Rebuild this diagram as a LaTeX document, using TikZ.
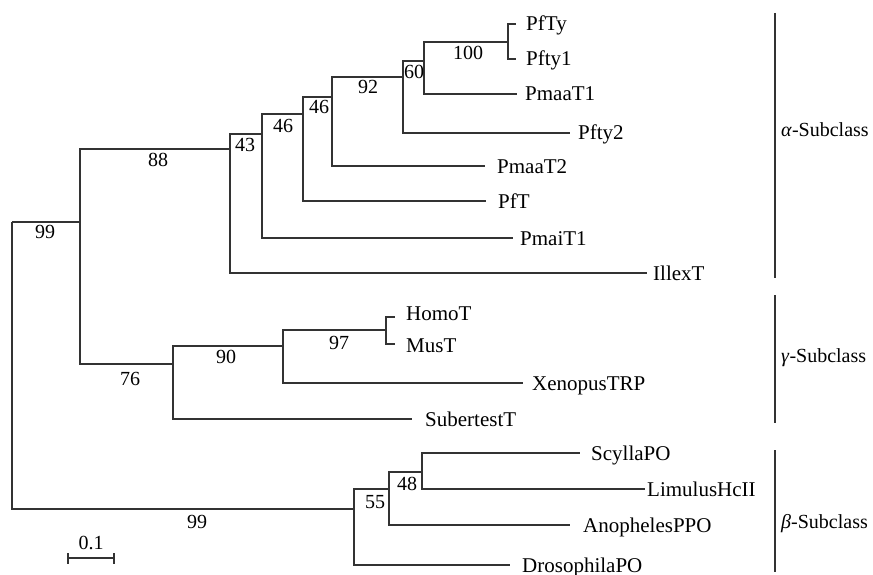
\documentclass[tikz,border=0pt]{standalone}
\usepackage{fontspec}
\setmainfont{Liberation Serif}
\begin{document}
\begin{tikzpicture}[x=1pt,y=-1pt,
  br/.style={draw=black!80,line width=1.1pt},
  txt/.style={font=\fontsize{20}{23}\selectfont,inner sep=0pt,text height=13.4pt,text depth=0pt},
  leaf/.style={font=\fontsize{21}{24}\selectfont,inner sep=0pt,text height=14pt,text depth=0pt,anchor=west},
  bs/.style={txt,anchor=center},
  grp/.style={font=\fontsize{20}{24}\selectfont,inner sep=0pt,text height=13.5pt,text depth=0pt,anchor=west}]
\useasboundingbox (0,0) rectangle (873,575);
% internal nodes (x of vertical line, y of join)
\coordinate (n99a) at (12,222);
\coordinate (n76) at (80,222);
\coordinate (n88) at (230,149);
\coordinate (n43) at (262,134);
\coordinate (n46a) at (303,114);
\coordinate (n46b) at (332,97);
\coordinate (n92) at (403,77);
\coordinate (n60) at (424,61);
\coordinate (n100) at (508,42);
\coordinate (n90) at (173,364);
\coordinate (n97a) at (283,346);
\coordinate (n97) at (386,330);
\coordinate (n99b) at (354,509);
\coordinate (n55) at (389,489);
\coordinate (n48) at (422,472);
% tips
\coordinate (tPfTy) at (516,24);
\coordinate (tPfty1) at (516,59);
\coordinate (tPmaaT1) at (517,94);
\coordinate (tPfty2) at (570,133);
\coordinate (tPmaaT2) at (485,166);
\coordinate (tPfT) at (486,201);
\coordinate (tPmaiT1) at (513,238);
\coordinate (tIllexT) at (647,273);
\coordinate (tHomoT) at (395,317);
\coordinate (tMusT) at (395,344);
\coordinate (tXen) at (523,383);
\coordinate (tSub) at (412,419);
\coordinate (tScy) at (580,453);
\coordinate (tLim) at (645,489);
\coordinate (tAno) at (570,525);
\coordinate (tDro) at (510,565);
% branches
\draw[br] (n99a) |- (n76);
\draw[br] (n99a) |- (n99b);
\draw[br] (n76) |- (n88);
\draw[br] (n76) |- (n90);
\draw[br] (n88) |- (n43);
\draw[br] (n88) |- (tIllexT);
\draw[br] (n43) |- (n46a);
\draw[br] (n43) |- (tPmaiT1);
\draw[br] (n46a) |- (n46b);
\draw[br] (n46a) |- (tPfT);
\draw[br] (n46b) |- (n92);
\draw[br] (n46b) |- (tPmaaT2);
\draw[br] (n92) |- (n60);
\draw[br] (n92) |- (tPfty2);
\draw[br] (n60) |- (n100);
\draw[br] (n60) |- (tPmaaT1);
\draw[br] (n100) |- (tPfTy);
\draw[br] (n100) |- (tPfty1);
\draw[br] (n90) |- (n97a);
\draw[br] (n90) |- (tSub);
\draw[br] (n97a) |- (n97);
\draw[br] (n97a) |- (tXen);
\draw[br] (n97) |- (tHomoT);
\draw[br] (n97) |- (tMusT);
\draw[br] (n99b) |- (n55);
\draw[br] (n99b) |- (tDro);
\draw[br] (n55) |- (n48);
\draw[br] (n55) |- (tAno);
\draw[br] (n48) |- (tScy);
\draw[br] (n48) |- (tLim);
% leaf labels
\node[leaf] (lPfTy) at (526,24) {PfTy};
\node[leaf] (lPfty1) at (526,59) {Pfty1};
\node[leaf] (lPmaaT1) at (525,94) {PmaaT1};
\node[leaf] (lPfty2) at (578,133) {Pfty2};
\node[leaf] (lPmaaT2) at (497,166) {PmaaT2};
\node[leaf] (lPfT) at (498,201) {PfT};
\node[leaf] (lPmaiT1) at (520,238) {PmaiT1};
\node[leaf] (lIllexT) at (653,273) {IllexT};
\node[leaf] (lHomoT) at (406,313) {HomoT};
\node[leaf] (lMusT) at (406,345) {MusT};
\node[leaf] (lXen) at (532,383) {XenopusTRP};
\node[leaf] (lSub) at (425,419) {SubertestT};
\node[leaf] (lScy) at (591,453) {ScyllaPO};
\node[leaf] (lLim) at (647,489) {LimulusHcII};
\node[leaf] (lAno) at (583,525) {AnophelesPPO};
\node[leaf] (lDro) at (522,565) {DrosophilaPO};
% bootstrap values
\node[bs] (b99a) at (45,232) {99};
\node[bs] (b88) at (158,160) {88};
\node[bs] (b43) at (245,145) {43};
\node[bs] (b46a) at (283,126) {46};
\node[bs] (b46b) at (319,107) {46};
\node[bs] (b92) at (368,87) {92};
\node[bs] (b60) at (414,72) {60};
\node[bs] (b100) at (468,53) {100};
\node[bs] (b76) at (130,379) {76};
\node[bs] (b90) at (226,357) {90};
\node[bs] (b97) at (339,343) {97};
\node[bs] (b99b) at (197,522) {99};
\node[bs] (b55) at (375,502) {55};
\node[bs] (b48) at (407,484) {48};
% group bars
\coordinate (ga1) at (775,13); \coordinate (ga2) at (775,278);
\coordinate (gg1) at (775,295); \coordinate (gg2) at (775,423);
\coordinate (gb1) at (775,450); \coordinate (gb2) at (775,572);
\draw[br] (ga1) -- (ga2);
\draw[br] (gg1) -- (gg2);
\draw[br] (gb1) -- (gb2);
\node[grp] (la) at (781,130) {\textit{α}-Subclass};
\node[grp] (lg) at (781,356) {\textit{γ}-Subclass};
\node[grp] (lb) at (781,522) {\textit{β}-Subclass};
% scale bar
\coordinate (s1) at (68,558); \coordinate (s2) at (114,558);
\draw[br] (s1) -- (s2);
\draw[br] ([yshift=-5.5pt]s1) -- ([yshift=5.5pt]s1);
\draw[br] ([yshift=-5.5pt]s2) -- ([yshift=5.5pt]s2);
\node[bs] (lsc) at (91,543) {0.1};
\end{tikzpicture}
\end{document}
